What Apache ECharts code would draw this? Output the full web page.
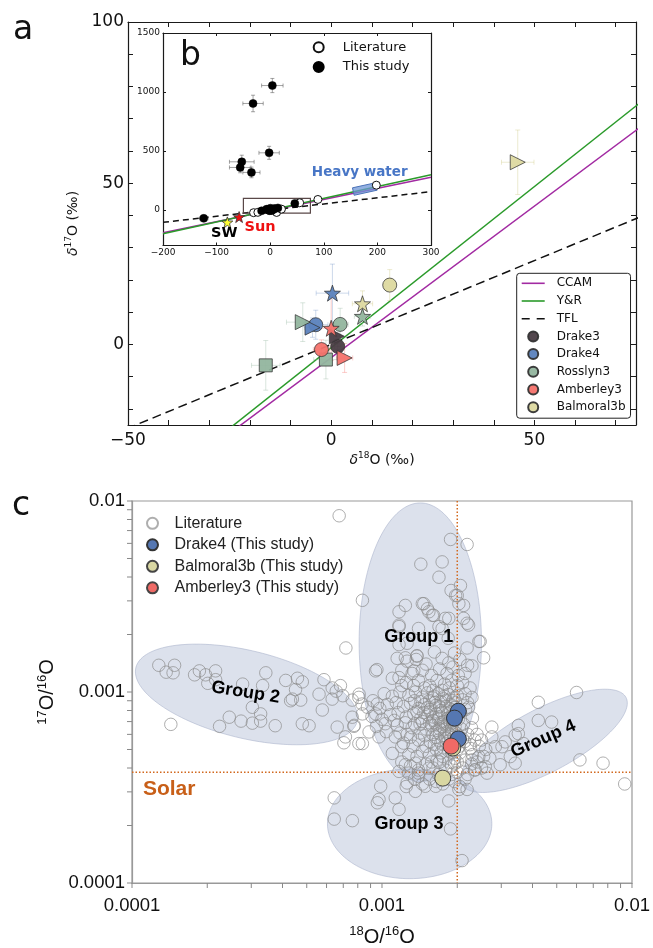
<!DOCTYPE html>
<html><head><meta charset="utf-8">
<script src="https://cdn.jsdelivr.net/npm/echarts@6/dist/echarts.min.js"></script>
<style>html,body{margin:0;padding:0;background:#fff}#c{width:653px;height:948px}</style>
</head><body><div id="c"></div>
<script>
// ================= DATA =================
// reference lines (d18O, d17O) end points
const lineCCAM = [[-200, -192.1], [300, 277.9]];
const lineYR   = [[-200, -201.04], [300, 298.96]];
const lineTFL  = [[-200, -104], [300, 156]];

// panel a: [d18O, d17O, err18, err17, kind]
const drake3     = [[1.6, -0.6, 0.8, 1.0, 'circle'], [1.4, 2.5, 0.8, 1.0, 'triangle']];
const drake4     = [[0.3, 15.9, 4, 9, 'star'], [-3.8, 6.1, 3, 4.5, 'circle'], [-4.6, 5.2, 2, 3, 'triangle']];
const rosslyn3   = [[7.7, 8.7, 2, 3, 'star'], [-7, 6.9, 4, 6, 'triangle'], [2.2, 6.2, 2, 5, 'circle'], [-1.3, -4.7, 3, 6, 'square'], [-16.1, -6.5, 3.5, 7.7, 'square']];
const amberley3  = [[0, 5, 3, 10, 'star'], [-2.4, -1.6, 2, 3, 'circle'], [3.3, -4.2, 2, 4.5, 'triangle']];
const balmoral3b = [[14.4, 18.4, 1, 4.8, 'circle'], [7.7, 12.6, 2.5, 4, 'star'], [45.9, 56.5, 4, 10, 'triangle']];
const sampleNames = ['Drake3', 'Drake4', 'Rosslyn3', 'Amberley3', 'Balmoral3b'];

// panel a ticks
const aTicksX = [-50, -40, -30, -20, -10, 0, 10, 20, 30, 40, 50, 60, 70];
const aLabelsX = [-50, 0, 50];
const aTicksY = [-20, -10, 0, 10, 20, 30, 40, 50, 60, 70, 80, 90, 100];
const aLabelsY = [0, 50, 100];

// inset b
const insetOutliers = [[4, 1055, 20, 60], [-32, 903, 19, 70], [-2, 485, 19, 55], [-53, 409, 23, 56], [-56, 361, 20, 45], [-35, 319, 16, 45], [-124, -70, 8, 20]];
const insetLiterature = [[-31, -22], [-23, -19], [12, -20], [21, 8], [55, 62], [89, 90], [198, 211]];
const heavyWater = [[155, 157, 198, 200]];
const heavyWaterLabel = [[167, 317]];
const zoomBox = [[-50, -25, 75, 100]];
const solarWind = [[-80, -104]];
const sunPoint = [[-58, -59]];
const bTicksY = [0, 500, 1000, 1500];

// panel c: literature 18O/16O, 17O/16O
const litGroup2 = [[1.28e-4,1.38e-3],[1.37e-4,1.27e-3],[1.48e-4,1.38e-3],[1.46e-4,1.26e-3],[1.78e-4,1.23e-3],[1.86e-4,1.29e-3],[1.97e-4,1.23e-3],[2.01e-4,1.11e-3],[2.16e-4,1.29e-3],[2.16e-4,1.16e-3],[2.77e-4,1.10e-3],[3.43e-4,1.26e-3],[3.33e-4,1.08e-3],[4.12e-4,1.15e-3],[4.59e-4,1.18e-3],[4.80e-4,1.13e-3],[4.51e-4,1.03e-3],[4.31e-4,9.0e-4],[4.73e-4,9.07e-4],[5.86e-4,1.16e-3],[5.60e-4,9.74e-4],[5.77e-4,8.05e-4],[6.32e-4,1.05e-3],[6.32e-4,9.18e-4],[6.82e-4,1.08e-3],[6.97e-4,9.56e-4],[6.56e-4,1.01e-3],[3.03e-4,8.32e-4],[3.27e-4,7.68e-4],[2.45e-4,7.38e-4],[2.24e-4,6.61e-4],[2.73e-4,7.04e-4],[3.03e-4,6.87e-4],[3.27e-4,7.04e-4],[3.74e-4,6.66e-4],[4.80e-4,6.82e-4],[5.11e-4,6.66e-4],[1.43e-4,6.77e-4],[4.38e-4,9.18e-4]];
const litBridge = [[7.60e-4,9.07e-4],[8.08e-4,9.37e-4],[8.32e-4,8.65e-4],[7.60e-4,7.38e-4],[7.72e-4,6.61e-4],[6.62e-4,6.55e-4],[7.14e-4,5.82e-4],[7.04e-4,5.42e-4],[8.08e-4,5.37e-4],[9.12e-4,7.44e-4],[9.54e-4,1.31e-3],[8.10e-4,9.74e-4],[8.74e-4,8.32e-4],[8.35e-4,7.68e-4],[9.58e-4,8.65e-4],[9.44e-4,7.68e-4],[1.03e-3,6.82e-4],[9.73e-4,5.82e-4],[8.35e-4,5.37e-4],[7.74e-4,6.69e-4],[8.88e-4,6.18e-4],[1.13e-3,5.82e-4],[1.20e-3,5.17e-4],[1.10e-3,4.77e-4],[1.24e-3,4.16e-4],[1.36e-3,4.24e-4],[1.54e-3,3.99e-4],[1.40e-3,3.76e-4]];
const litGroup1 = [[6.74e-4,8.37e-3],[1.88e-3,6.29e-3],[2.19e-3,5.92e-3],[1.43e-3,4.67e-3],[1.74e-3,4.80e-3],[1.69e-3,3.99e-3],[1.89e-3,3.40e-3],[2.06e-3,3.61e-3],[2.0e-3,3.20e-3],[2.12e-3,2.84e-3],[8.35e-4,3.02e-3],[1.17e-3,2.63e-3],[1.24e-3,2.84e-3],[1.45e-3,2.90e-3],[1.52e-3,2.73e-3],[1.59e-3,2.52e-3],[1.85e-3,2.43e-3],[2.19e-3,2.29e-3],[1.17e-3,2.24e-3],[1.40e-3,2.15e-3],[1.74e-3,2.15e-3],[2.47e-3,1.84e-3],[1.97e-3,3.20e-3],[2.03e-3,2.90e-3],[1.47e-3,2.90e-3],[1.54e-3,2.63e-3],[1.61e-3,2.52e-3],[1.79e-3,2.43e-3],[2.12e-3,2.43e-3],[2.22e-3,2.24e-3],[1.17e-3,2.20e-3],[1.69e-3,2.20e-3],[1.37e-3,1.48e-3],[1.84e-3,1.91e-3],[2.44e-3,1.84e-3],[9.42e-4,1.29e-3],[1.17e-3,1.19e-3],[1.24e-3,1.51e-3],[1.34e-3,1.29e-3],[1.38e-3,1.54e-3],[1.17e-3,1.77e-3],[1.26e-3,1.80e-3],[7.17e-4,1.70e-3],[2.19e-3,1.70e-3],[2.29e-3,1.37e-3],[2.55e-3,1.51e-3],[2.29e-3,9.37e-4],[2.22e-3,8.32e-4],[3.02e-3,5.17e-4]];
const litCore = [[1.15e-3,1.5e-3],[1.26e-3,1.45e-3],[1.38e-3,1.55e-3],[1.5e-3,1.4e-3],[1.62e-3,1.62e-3],[1.74e-3,1.5e-3],[1.85e-3,1.42e-3],[1.95e-3,1.6e-3],[2.05e-3,1.48e-3],[2.2e-3,1.38e-3],
[1.2e-3,1.3e-3],[1.32e-3,1.25e-3],[1.45e-3,1.3e-3],[1.58e-3,1.22e-3],[1.7e-3,1.32e-3],[1.82e-3,1.25e-3],[1.92e-3,1.35e-3],[2.02e-3,1.22e-3],[2.15e-3,1.25e-3],
[1.1e-3,1.18e-3],[1.25e-3,1.12e-3],[1.4e-3,1.15e-3],[1.55e-3,1.08e-3],[1.66e-3,1.15e-3],[1.78e-3,1.1e-3],[1.9e-3,1.15e-3],[2.0e-3,1.08e-3],[2.1e-3,1.12e-3],[2.25e-3,1.05e-3],
[1.02e-3,9.8e-4],[1.1e-3,9.5e-4],[1.18e-3,1.0e-3],[1.28e-3,9.6e-4],[1.36e-3,1.0e-3],[1.45e-3,9.4e-4],[1.52e-3,9.9e-4],[1.6e-3,9.3e-4],[1.68e-3,9.8e-4],[1.76e-3,9.2e-4],[1.84e-3,9.7e-4],[1.92e-3,9.0e-4],[2.0e-3,9.6e-4],[2.1e-3,9.1e-4],[2.2e-3,8.8e-4],
[1.05e-3,8.6e-4],[1.14e-3,8.8e-4],[1.22e-3,8.4e-4],[1.3e-3,8.7e-4],[1.4e-3,8.2e-4],[1.48e-3,8.6e-4],[1.56e-3,8.1e-4],[1.64e-3,8.5e-4],[1.72e-3,8.0e-4],[1.8e-3,8.4e-4],[1.88e-3,7.9e-4],[1.96e-3,8.3e-4],[2.06e-3,7.8e-4],[2.16e-3,8.1e-4],
[1.08e-3,7.6e-4],[1.16e-3,7.8e-4],[1.25e-3,7.4e-4],[1.34e-3,7.7e-4],[1.43e-3,7.3e-4],[1.52e-3,7.6e-4],[1.6e-3,7.1e-4],[1.68e-3,7.4e-4],[1.76e-3,7.0e-4],[1.84e-3,7.3e-4],[1.92e-3,6.9e-4],[2.02e-3,7.2e-4],[2.12e-3,6.8e-4],
[1.15e-3,6.7e-4],[1.24e-3,6.9e-4],[1.32e-3,6.5e-4],[1.42e-3,6.8e-4],[1.5e-3,6.4e-4],[1.58e-3,6.7e-4],[1.66e-3,6.3e-4],[1.74e-3,6.6e-4],[1.82e-3,6.2e-4],[1.9e-3,6.5e-4],[1.98e-3,6.1e-4],[2.08e-3,6.4e-4],[2.2e-3,6.0e-4],
[1.35e-3,9.0e-4],[1.43e-3,8.9e-4],[1.55e-3,9.0e-4],[1.63e-3,8.8e-4],[1.72e-3,8.9e-4],[1.8e-3,9.0e-4],[1.88e-3,8.6e-4],[1.97e-3,8.8e-4],
[1.38e-3,7.9e-4],[1.47e-3,7.8e-4],[1.56e-3,7.9e-4],[1.65e-3,7.7e-4],[1.74e-3,7.8e-4],[1.83e-3,7.7e-4],[1.91e-3,7.5e-4],[2.0e-3,7.6e-4],
[1.45e-3,7.0e-4],[1.55e-3,6.9e-4],[1.64e-3,6.8e-4],[1.72e-3,6.9e-4],[1.8e-3,6.7e-4],[1.88e-3,6.8e-4],[1.96e-3,6.6e-4],
[1.6e-3,6.0e-4],[1.7e-3,6.1e-4],[1.78e-3,5.9e-4],[1.86e-3,6.0e-4],[1.94e-3,5.8e-4],[2.02e-3,5.9e-4],[2.1e-3,5.7e-4],
[1.3e-3,5.8e-4],[1.4e-3,5.6e-4],[1.48e-3,5.9e-4],[1.56e-3,5.5e-4],[1.64e-3,5.8e-4],[1.72e-3,5.4e-4],[1.8e-3,5.7e-4],[1.88e-3,5.3e-4],[1.96e-3,5.6e-4],[2.04e-3,5.2e-4],[2.14e-3,5.5e-4],[2.25e-3,5.3e-4],[2.35e-3,5.6e-4],[2.45e-3,5.2e-4],
[1.45e-3,4.9e-4],[1.55e-3,4.7e-4],[1.65e-3,5.0e-4],[1.75e-3,4.6e-4],[1.85e-3,4.9e-4],[1.95e-3,4.5e-4],[2.05e-3,4.8e-4],[2.15e-3,4.4e-4],[2.3e-3,4.7e-4],[2.4e-3,4.3e-4],[2.55e-3,4.6e-4],
[1.5e-3,4.2e-4],[1.6e-3,4.0e-4],[1.7e-3,4.3e-4],[1.8e-3,3.9e-4],[1.9e-3,4.1e-4],[2.0e-3,3.8e-4],[2.1e-3,4.0e-4],[2.2e-3,3.7e-4],[2.35e-3,3.9e-4],[2.5e-3,4.0e-4],[1.4e-3,3.9e-4],[1.3e-3,4.1e-4],[1.2e-3,4.3e-4],
[1.55e-3,3.5e-4],[1.65e-3,3.4e-4],[1.75e-3,3.3e-4],[1.85e-3,3.5e-4],[1.95e-3,3.4e-4],[2.05e-3,3.2e-4],[1.45e-3,3.3e-4],[1.35e-3,3.5e-4],[1.25e-3,3.2e-4],[2.15e-3,3.5e-4],
[1.62e-3,9.5e-4],[1.7e-3,8.4e-4],[1.78e-3,9.5e-4],[1.86e-3,8.2e-4],[1.94e-3,9.3e-4],[1.52e-3,8.3e-4],[1.6e-3,7.4e-4],[1.68e-3,7.2e-4],[1.86e-3,7.0e-4],[1.94e-3,7.1e-4],[1.7e-3,6.4e-4],[1.78e-3,6.4e-4],[1.9e-3,6.2e-4],[1.68e-3,5.6e-4],[1.76e-3,5.1e-4],[1.84e-3,5.5e-4],[1.9e-3,4.8e-4],[1.72e-3,4.8e-4],[1.62e-3,5.3e-4],[2.0e-3,5.0e-4],[1.95e-3,4.2e-4],[1.85e-3,4.3e-4],[1.66e-3,4.4e-4],[1.5e-3,5.2e-4],[1.42e-3,6.1e-4],[1.35e-3,6.8e-4],
[9.2e-4,9.0e-4],[9.8e-4,8.2e-4],[1.0e-3,7.2e-4],[9.5e-4,6.6e-4],[1.04e-3,6.2e-4],[1.12e-3,7.1e-4],[1.18e-3,6.1e-4],[1.26e-3,6.0e-4],[1.22e-3,5.4e-4],[1.33e-3,5.2e-4],[1.38e-3,4.6e-4],[1.28e-3,4.7e-4],[1.6e-3,1.02e-3],[1.74e-3,1.02e-3],[1.86e-3,1.05e-3],[1.48e-3,1.05e-3],[1.34e-3,1.08e-3],[1.2e-3,1.08e-3],[2.15e-3,9.8e-4],[2.3e-3,7.3e-4],[2.28e-3,6.5e-4],[2.4e-3,6.0e-4],[2.5e-3,5.6e-4],[2.6e-3,5.0e-4],[2.7e-3,4.5e-4],[2.0e-3,4.3e-4],[1.58e-3,4.3e-4],[1.68e-3,3.7e-4],[1.9e-3,3.7e-4],[2.28e-3,4.2e-4]];
const litGroup4 = [[6.0e-3,9.94e-4],[4.22e-3,8.83e-4],[4.22e-3,7.10e-4],[4.77e-3,6.96e-4],[3.51e-3,6.69e-4],[3.51e-3,6.05e-4],[2.75e-3,6.55e-4],[3.11e-3,5.48e-4],[2.84e-3,5.17e-4],[3.26e-3,4.59e-4],[2.97e-3,4.16e-4],[3.41e-3,4.24e-4],[3.68e-3,5.37e-4],[2.59e-3,4.07e-4],[2.44e-3,4.59e-4],[2.36e-3,3.92e-4],[2.63e-3,3.76e-4],[6.19e-3,4.41e-4],[7.66e-3,4.24e-4],[9.35e-3,3.30e-4],[2.75e-3,5.82e-4],[3.41e-3,5.94e-4],[2.26e-3,5.06e-4],[2.29e-3,4.41e-4]];
const litGroup3 = [[6.44e-4,2.79e-4],[6.44e-4,2.16e-4],[7.61e-4,2.12e-4],[9.88e-4,3.21e-4],[9.73e-4,2.74e-4],[9.58e-4,2.63e-4],[1.17e-3,2.43e-4],[1.13e-3,2.79e-4],[1.88e-3,1.92e-4],[2.09e-3,1.31e-4],[1.26e-3,3.34e-4],[1.36e-3,3.02e-4],[1.49e-3,3.21e-4],[1.64e-3,3.21e-4],[1.85e-3,2.69e-4],[2.03e-3,3.09e-4],[2.19e-3,3.09e-4],[1.28e-3,3.76e-4],[1.40e-3,3.61e-4],[1.17e-3,3.84e-4]];
const cDrake4 = [[2.02e-3, 7.93e-4], [1.95e-3, 7.30e-4], [2.02e-3, 5.68e-4]];
const cBalmoral3b = [[1.92e-3, 5.09e-4], [1.75e-3, 3.54e-4]];
const cAmberley3 = [[1.89e-3, 5.21e-4]];
const solar = [[2.0e-3, 3.8e-4]];
const solarLabel = [[1.106e-4, 3.1e-4]];
// group regions: [centre x, centre y, major-axis end x, y, minor-axis end x, y]
const groupEllipses = [
  [1.423e-3, 1.82e-3, 1.423e-3, 9.77e-3, 2.50e-3, 1.82e-3],
  [2.872e-4, 9.71e-4, 7.97e-4, 7.69e-4, 2.66e-4, 1.70e-3],
  [1.29e-3, 2.04e-4, 2.75e-3, 2.04e-4, 1.29e-3, 3.95e-4],
  [4.44e-3, 5.55e-4, 9.46e-3, 9.37e-4, 3.87e-3, 7.77e-4]
];
const groupNames = ['Group 1', 'Group 2', 'Group 3', 'Group 4'];
const groupLabelPos = [[1.404e-3, 1.935e-3], [2.846e-4, 9.94e-4], [1.281e-3, 2.04e-4], [4.42e-3, 5.68e-4]];
const groupLabelRot = [0, -9, 0, 24];
const cTicks = [1e-4,2e-4,3e-4,4e-4,5e-4,6e-4,7e-4,8e-4,9e-4,1e-3,2e-3,3e-3,4e-3,5e-3,6e-3,7e-3,8e-3,9e-3,1e-2];

// ================= STYLE =================
const FA = 'DejaVu Sans', FC = 'Liberation Sans';
const starPath = 'path://M0,-10L2.35,-3.24L9.51,-3.09L3.8,1.24L5.88,8.09L0,4L-5.88,8.09L-3.8,1.24L-9.51,-3.09L-2.35,-3.24Z';
const shapeMap = {
  circle: {symbol: 'circle', size: 14, rot: 0},
  triangle: {symbol: 'triangle', size: 15, rot: -90},
  star: {symbol: starPath, size: 16, rot: 0},
  square: {symbol: 'rect', size: 13, rot: 0}
};
const sampleColors = ['#4a3d45', '#5b82bd', '#92b59e', '#f5726c', '#ddd9a0'];
const sampleErr = ['rgba(74,61,69,0.3)', 'rgba(91,130,189,0.3)', 'rgba(146,181,158,0.35)', 'rgba(245,114,108,0.35)', 'rgba(200,196,120,0.35)'];
const samples = [drake3, drake4, rosslyn3, amberley3, balmoral3b];
const minus = v => (v < 0 ? '\u2212' + (-v) : '' + v);
const lineIcon = 'path://M0,0h23v1.6h-23z';
const dashIcon = 'path://M0,0h8v1.6h-8zM15,0h8v1.6h-8z';

function errBars(color, cap) {
  return function (params, api) {
    const x = api.value(0), y = api.value(1), ex = api.value(2), ey = api.value(3);
    const a = api.coord([x - ex, y]), b = api.coord([x + ex, y]);
    const c = api.coord([x, y - ey]), d = api.coord([x, y + ey]);
    const L = (x1, y1, x2, y2) => ({type: 'line', shape: {x1, y1, x2, y2}, style: {stroke: color, lineWidth: 1}});
    return {type: 'group', children: [
      L(a[0], a[1], b[0], b[1]), L(c[0], c[1], d[0], d[1]),
      L(a[0], a[1] - cap, a[0], a[1] + cap), L(b[0], b[1] - cap, b[0], b[1] + cap),
      L(c[0] - cap, c[1], c[0] + cap, c[1]), L(d[0] - cap, d[1], d[0] + cap, d[1])
    ]};
  };
}
// text annotation placed at a data point (drawn through the axes)
function textAt(txt, font, fill, opts) {
  opts = opts || {};
  return function (params, api) {
    const p = api.coord([api.value(0), api.value(1)]);
    const t = typeof txt === 'function' ? txt(params.dataIndex) : txt;
    const rot = opts.rot ? opts.rot(params.dataIndex) : 0;
    return {type: 'text', x: p[0] + (opts.dx || 0), y: p[1] + (opts.dy || 0), rotation: rot * Math.PI / 180,
      style: {text: t, font: font, fill: fill, align: opts.align || 'center', verticalAlign: 'middle'}};
  };
}

const series = [];
// ---- panel a ----
series.push({type: 'line', name: 'CCAM', xAxisIndex: 0, yAxisIndex: 0, data: lineCCAM, symbol: 'none', lineStyle: {color: '#a22aa2', width: 1.5}, itemStyle: {color: '#a22aa2'}, z: 2, silent: true});
series.push({type: 'line', name: 'Y&R', xAxisIndex: 0, yAxisIndex: 0, data: lineYR, symbol: 'none', lineStyle: {color: '#2a9a2a', width: 1.5}, itemStyle: {color: '#2a9a2a'}, z: 2, silent: true});
series.push({type: 'line', name: 'TFL', xAxisIndex: 0, yAxisIndex: 0, data: lineTFL, symbol: 'none', lineStyle: {color: '#111', width: 1.5, type: [9, 5]}, itemStyle: {color: '#111'}, z: 2, silent: true});
samples.forEach((arr, i) => {
  series.push({type: 'custom', xAxisIndex: 0, yAxisIndex: 0, data: arr.map(p => [p[0], p[1], p[2], p[3]]), renderItem: errBars(sampleErr[i], 2.5), z: 3, silent: true});
});
samples.forEach((arr, i) => {
  series.push({type: 'scatter', name: sampleNames[i], xAxisIndex: 0, yAxisIndex: 0, z: 5,
    itemStyle: {color: sampleColors[i], borderColor: '#333', borderWidth: 0.8, opacity: 0.95},
    data: arr.map(p => ({value: [p[0], p[1]], symbol: shapeMap[p[4]].symbol, symbolSize: shapeMap[p[4]].size, symbolRotate: shapeMap[p[4]].rot}))});
});
// ---- inset b ----
series.push({type: 'line', xAxisIndex: 2, yAxisIndex: 2, data: lineCCAM, symbol: 'none', lineStyle: {color: '#a22aa2', width: 1.5}, z: 2, silent: true});
series.push({type: 'line', xAxisIndex: 2, yAxisIndex: 2, data: lineYR, symbol: 'none', lineStyle: {color: '#2a9a2a', width: 1.5}, z: 2, silent: true});
series.push({type: 'line', xAxisIndex: 2, yAxisIndex: 2, data: lineTFL, symbol: 'none', lineStyle: {color: '#111', width: 1.5, type: [6, 4]}, z: 2, silent: true});
series.push({type: 'custom', xAxisIndex: 2, yAxisIndex: 2, data: zoomBox, z: 3, silent: true,
  renderItem(params, api) {
    const p0 = api.coord([api.value(0), api.value(1)]), p1 = api.coord([api.value(2), api.value(3)]);
    return {type: 'rect', shape: {x: p0[0], y: p1[1], width: p1[0] - p0[0], height: p0[1] - p1[1]}, style: {fill: 'none', stroke: '#5a4848', lineWidth: 1.2}};
  }});
series.push({type: 'custom', xAxisIndex: 2, yAxisIndex: 2, data: heavyWater, z: 3, silent: true,
  renderItem(params, api) {
    const a = api.coord([api.value(0), api.value(1)]), b = api.coord([api.value(2), api.value(3)]);
    const dx = b[0] - a[0], dy = b[1] - a[1], len = Math.hypot(dx, dy), h = 3.8;
    const nx = -dy / len * h, ny = dx / len * h;
    return {type: 'polygon', shape: {points: [[a[0] + nx, a[1] + ny], [b[0] + nx, b[1] + ny], [b[0] - nx, b[1] - ny], [a[0] - nx, a[1] - ny]]},
      style: {fill: 'rgba(110,150,215,0.75)', stroke: '#4d73b8', lineWidth: 1}};
  }});
series.push({type: 'custom', xAxisIndex: 2, yAxisIndex: 2, data: insetOutliers, renderItem: errBars('rgba(90,90,90,0.55)', 2), z: 3, silent: true});
series.push({type: 'scatter', name: 'Literature ', xAxisIndex: 2, yAxisIndex: 2, data: insetLiterature, symbol: 'circle', symbolSize: 8,
  itemStyle: {color: '#fff', borderColor: '#111', borderWidth: 1, opacity: 1}, z: 4});
series.push({type: 'scatter', name: 'This study', xAxisIndex: 2, yAxisIndex: 2, symbol: 'circle', symbolSize: 8,
  data: samples.flat().map(p => [p[0], p[1]]).concat(insetOutliers.map(p => [p[0], p[1]])),
  itemStyle: {color: '#000', borderColor: '#000', borderWidth: 0.5, opacity: 1}, z: 5});
series.push({type: 'scatter', xAxisIndex: 2, yAxisIndex: 2, data: solarWind, symbol: starPath, symbolSize: 11, z: 6,
  itemStyle: {color: '#ffff33', borderColor: '#333', borderWidth: 0.8, opacity: 1}});
series.push({type: 'scatter', xAxisIndex: 2, yAxisIndex: 2, data: sunPoint, symbol: starPath, symbolSize: 11, z: 6,
  itemStyle: {color: '#ee1111', borderColor: '#333', borderWidth: 0.8, opacity: 1}});
series.push({type: 'custom', xAxisIndex: 2, yAxisIndex: 2, data: solarWind, z: 7, silent: true,
  renderItem: textAt('SW', 'bold 14.5px "DejaVu Sans"', '#000', {dx: -3, dy: 11})});
series.push({type: 'custom', xAxisIndex: 2, yAxisIndex: 2, data: sunPoint, z: 7, silent: true,
  renderItem: textAt('Sun', 'bold 14.5px "DejaVu Sans"', '#ee1111', {dx: 21, dy: 10})});
series.push({type: 'custom', xAxisIndex: 2, yAxisIndex: 2, data: heavyWaterLabel, z: 7, silent: true,
  renderItem: textAt('Heavy water', 'bold 13.5px "DejaVu Sans"', '#4876c6')});
// ---- panel c ----
series.push({type: 'custom', xAxisIndex: 4, yAxisIndex: 4, data: groupEllipses, z: 1, silent: true,
  renderItem(params, api) {
    const C = api.coord([api.value(0), api.value(1)]), M = api.coord([api.value(2), api.value(3)]), N = api.coord([api.value(4), api.value(5)]);
    const ax = M[0] - C[0], ay = M[1] - C[1], bx = N[0] - C[0], by = N[1] - C[1];
    const pts = [];
    for (let i = 0; i < 144; i++) { const t = i / 144 * 2 * Math.PI; pts.push([C[0] + ax * Math.cos(t) + bx * Math.sin(t), C[1] + ay * Math.cos(t) + by * Math.sin(t)]); }
    return {type: 'polygon', shape: {points: pts}, style: {fill: 'rgba(178,188,212,0.45)', stroke: 'rgba(165,175,200,0.55)', lineWidth: 1}};
  }});
series.push({type: 'custom', xAxisIndex: 4, yAxisIndex: 4, data: solar, z: 2, silent: true,
  renderItem(params, api) {
    const cs = params.coordSys, p = api.coord([api.value(0), api.value(1)]);
    const st = {stroke: '#d2691e', lineWidth: 1.5, lineDash: [1.5, 2]};
    return {type: 'group', children: [
      {type: 'line', shape: {x1: cs.x, y1: p[1], x2: cs.x + cs.width, y2: p[1]}, style: st},
      {type: 'line', shape: {x1: p[0], y1: cs.y, x2: p[0], y2: cs.y + cs.height}, style: Object.assign({}, st)}
    ]};
  }});
series.push({type: 'scatter', name: 'Literature', xAxisIndex: 4, yAxisIndex: 4, symbol: 'circle', symbolSize: 12.5, z: 3,
  data: litGroup2.concat(litBridge, litGroup1, litCore, litGroup4, litGroup3),
  itemStyle: {color: 'rgba(255,255,255,0)', borderColor: 'rgba(140,140,140,0.7)', borderWidth: 1, opacity: 1}});
series.push({type: 'scatter', name: 'Drake4 (This study)', xAxisIndex: 4, yAxisIndex: 4, data: cDrake4, symbolSize: 16, z: 6,
  itemStyle: {color: '#5577b2', borderColor: '#333', borderWidth: 1, opacity: 1}});
series.push({type: 'scatter', name: 'Balmoral3b (This study)', xAxisIndex: 4, yAxisIndex: 4, data: cBalmoral3b, symbolSize: 16, z: 6,
  itemStyle: {color: '#d9d7a2', borderColor: '#444', borderWidth: 1, opacity: 1}});
series.push({type: 'scatter', name: 'Amberley3 (This study)', xAxisIndex: 4, yAxisIndex: 4, data: cAmberley3, symbolSize: 16, z: 6,
  itemStyle: {color: '#ef6a66', borderColor: '#444', borderWidth: 1, opacity: 1}});
series.push({type: 'custom', xAxisIndex: 4, yAxisIndex: 4, data: groupLabelPos, z: 7, silent: true,
  renderItem: textAt(i => groupNames[i], 'bold 18px "Liberation Sans"', '#000', {rot: i => groupLabelRot[i]})});
series.push({type: 'custom', xAxisIndex: 4, yAxisIndex: 4, data: solarLabel, z: 7, silent: true,
  renderItem: textAt('Solar', 'bold 21px "Liberation Sans"', '#c85f18', {align: 'left'})});
series.push({type: 'custom', xAxisIndex: 4, yAxisIndex: 4, data: cTicks.map(v => [v, 1e-3]), z: 4, silent: true, clip: false,
  renderItem(params, api) {
    const cs = params.coordSys, x = api.coord([api.value(0), api.value(1)])[0], yb = cs.y + cs.height;
    return {type: 'line', shape: {x1: x, y1: yb, x2: x, y2: yb + 5}, style: {stroke: '#888', lineWidth: 1}};
  }});
series.push({type: 'custom', xAxisIndex: 4, yAxisIndex: 4, data: cTicks.map(v => [1e-3, v]), z: 4, silent: true, clip: false,
  renderItem(params, api) {
    const cs = params.coordSys, y = api.coord([api.value(0), api.value(1)])[1], xl = cs.x;
    return {type: 'line', shape: {x1: xl - 5, y1: y, x2: xl, y2: y}, style: {stroke: '#888', lineWidth: 1}};
  }});

const supRich = (n, s) => ({n: {fontSize: n, fontFamily: FA, color: '#111', lineHeight: n + 4}, i: {fontSize: n, fontFamily: FA, fontStyle: 'italic', color: '#111', lineHeight: n + 4}, s: {fontSize: s, fontFamily: FA, color: '#111', verticalAlign: 'top', lineHeight: s + 2}});
const supRichC = {n: {fontSize: 20, fontFamily: FC, color: '#111', lineHeight: 24}, s: {fontSize: 13, fontFamily: FC, color: '#111', verticalAlign: 'top', lineHeight: 14}};
const blk = '#1a1a1a';
const lineA = {show: true, onZero: false, lineStyle: {color: blk, width: 1.2}};
const tickIn = (vals, len) => ({show: true, inside: true, length: len, customValues: vals, lineStyle: {color: blk, width: 1}});

const option = {
  animation: false,
  backgroundColor: '#fff',
  grid: [
    {left: 128, top: 22, width: 508, height: 403, show: false},
    {left: 163, top: 33, width: 268, height: 212.5, show: false},
    {left: 132, top: 501, width: 502, height: 387, show: true, borderColor: '#999', borderWidth: 1.2}
  ],
  xAxis: [
    {gridIndex: 0, type: 'value', min: -50, max: 75, position: 'bottom', axisLine: lineA,
      axisTick: tickIn(aTicksX, 5), axisLabel: {customValues: aLabelsX, formatter: minus, fontFamily: FA, fontSize: 17, color: '#111', margin: 7},
      splitLine: {show: false}, name: '{i|δ}{s|18}{n|O (‰)}', nameLocation: 'middle', nameGap: 26, nameTextStyle: {rich: supRich(14, 9)}},
    {gridIndex: 0, type: 'value', min: -50, max: 75, position: 'top', axisLine: lineA,
      axisTick: tickIn(aTicksX, 5), axisLabel: {show: false}, splitLine: {show: false}},
    {gridIndex: 1, type: 'value', min: -200, max: 300, interval: 100, position: 'bottom', axisLine: lineA,
      axisTick: {show: true, inside: true, length: 3, lineStyle: {color: blk}}, axisLabel: {formatter: minus, fontFamily: FA, fontSize: 9, color: '#111', margin: 3}, splitLine: {show: false}},
    {gridIndex: 1, type: 'value', min: -200, max: 300, interval: 100, position: 'top', axisLine: lineA,
      axisTick: {show: true, inside: true, length: 3, lineStyle: {color: blk}}, axisLabel: {show: false}, splitLine: {show: false}},
    {gridIndex: 2, type: 'log', logBase: 10, min: 1e-4, max: 1e-2, axisLine: {show: true, onZero: false, lineStyle: {color: '#999', width: 1.2}},
      axisTick: {show: false}, axisLabel: {formatter: v => v.toFixed(Math.round(-Math.log10(v))), fontFamily: FC, fontSize: 18.5, color: '#111', margin: 13},
      splitLine: {show: false}, name: '{s|18}{n|O/}{s|16}{n|O}', nameLocation: 'middle', nameGap: 42, nameTextStyle: {rich: supRichC}}
  ],
  yAxis: [
    {gridIndex: 0, type: 'value', min: -25, max: 100, position: 'left', axisLine: lineA,
      axisTick: tickIn(aTicksY, 5), axisLabel: {customValues: aLabelsY, formatter: minus, fontFamily: FA, fontSize: 17, color: '#111', margin: 4},
      splitLine: {show: false}, name: '{i|δ}{s|17}{n|O (‰)}', nameLocation: 'middle', nameRotate: 90, nameGap: 44, nameTextStyle: {rich: supRich(14, 9)}},
    {gridIndex: 0, type: 'value', min: -25, max: 100, position: 'right', axisLine: lineA,
      axisTick: tickIn(aTicksY, 5), axisLabel: {show: false}, splitLine: {show: false}},
    {gridIndex: 1, type: 'value', min: -300, max: 1500, position: 'left', axisLine: lineA,
      axisTick: tickIn(bTicksY, 3), axisLabel: {customValues: bTicksY, formatter: v => '' + v, fontFamily: FA, fontSize: 9, color: '#111', margin: 3}, splitLine: {show: false}},
    {gridIndex: 1, type: 'value', min: -300, max: 1500, position: 'right', axisLine: lineA,
      axisTick: tickIn(bTicksY, 3), axisLabel: {show: false}, splitLine: {show: false}},
    {gridIndex: 2, type: 'log', logBase: 10, min: 1e-4, max: 1e-2, axisLine: {show: true, onZero: false, lineStyle: {color: '#999', width: 1.2}},
      axisTick: {show: false}, axisLabel: {formatter: v => v.toFixed(Math.round(-Math.log10(v))), fontFamily: FC, fontSize: 18.5, color: '#111', margin: 7},
      splitLine: {show: false}, name: '{s|17}{n|O/}{s|16}{n|O}', nameLocation: 'middle', nameRotate: 90, nameGap: 40, nameTextStyle: {rich: supRichC}}
  ],
  legend: [
    {left: 516.7, top: 273.3, orient: 'vertical', selectedMode: false, backgroundColor: '#fff', borderColor: '#222', borderWidth: 1, borderRadius: 3,
      padding: [3, 5, 4, 5], itemWidth: 23, itemHeight: 10, itemGap: 3.7,
      textStyle: {fontFamily: FA, fontSize: 12, color: '#111', lineHeight: 14, padding: [0, 0, 0, 7]},
      data: [{name: 'CCAM', icon: lineIcon}, {name: 'Y&R', icon: lineIcon}, {name: 'TFL', icon: dashIcon}].concat(sampleNames.map(n => ({name: n, icon: 'circle'})))},
    {left: 312.7, top: 39.8, orient: 'vertical', selectedMode: false, padding: 0, itemWidth: 38, itemHeight: 10, itemGap: 4.7,
      textStyle: {fontFamily: FA, fontSize: 13, color: '#111', lineHeight: 15},
      data: [{name: 'Literature ', icon: 'circle'}, {name: 'This study', icon: 'circle'}]},
    {left: 146, top: 514.3, orient: 'vertical', selectedMode: false, padding: 0, itemWidth: 34, itemHeight: 11, itemGap: 3.5,
      textStyle: {fontFamily: FC, fontSize: 16, color: '#222', lineHeight: 18},
      data: ['Literature', 'Drake4 (This study)', 'Balmoral3b (This study)', 'Amberley3 (This study)'].map(n => ({name: n, icon: 'circle'}))}
  ],
  graphic: [
    {type: 'text', left: 13, top: 14, style: {text: 'a', fontFamily: FA, fontSize: 33, fill: '#111'}},
    {type: 'text', left: 180, top: 40, style: {text: 'b', fontFamily: FA, fontSize: 33, fill: '#111'}},
    {type: 'text', left: 12, top: 490, style: {text: 'c', fontFamily: FA, fontSize: 33, fill: '#111'}}
  ],
  series: series
};
const chart = echarts.init(document.getElementById('c'));
chart.setOption(option);
</script></body></html>
